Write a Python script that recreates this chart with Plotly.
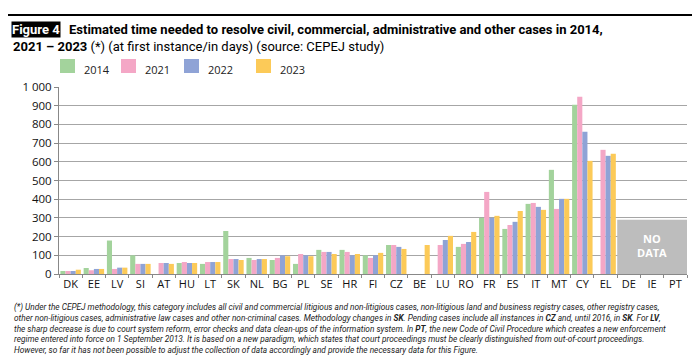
import plotly.graph_objects as go

countries = ["DK","EE","LV","SI","AT","HU","LT","SK","NL","BG","PL","SE","HR","FI","CZ","BE","LU","RO","FR","ES","IT","MT","CY","EL","DE","IE","PT"]
v2014 = [16,32,179,100,None,59,54,230,86,75,54,129,129,100,155,None,None,145,300,241,375,557,905,None,None,None,None]
v2021 = [16,20,27,54,59,64,64,80,75,86,107,118,118,86,155,None,155,161,439,262,380,348,948,664,None,None,None]
v2022 = [16,27,34,54,59,59,64,80,80,100,100,118,100,100,145,None,182,171,300,279,359,402,761,632,None,None,None]
v2023 = [23,27,34,54,54,59,64,75,80,95,95,107,107,113,134,155,204,225,311,337,343,402,605,643,None,None,None]
series_names = ["2014","2021","2022","2023"]
colors = ["#a3d39c","#f4a7c6","#8fa3d6","#fcca58"]
no_data_countries = ["DE","IE","PT"]
no_data_height = 290
y_ticks = [0,100,200,300,400,500,600,700,800,900,1000]
y_ticklabels = ["0","100","200","300","400","500","600","700","800","900","1 000"]

W, H = 700, 359
L, R, T, B = 51, 21, 79, 93
pw = W - L - R
ph = H - T - B

def px_x(px):
    return (px - L) / pw

def px_y(py):
    return (H - B - py) / ph

fig = go.Figure()
for name, vals, c in zip(series_names, [v2014, v2021, v2022, v2023], colors):
    fig.add_trace(go.Bar(x=countries, y=vals, name=name, marker_color=c,
                         marker_line_width=0, showlegend=False))

# no data box
i0 = countries.index(no_data_countries[0])
i1 = countries.index(no_data_countries[-1])
fig.add_shape(type="rect", xref="x", yref="y", x0=i0 - 0.5, x1=i1 + 0.5, y0=0, y1=no_data_height,
              fillcolor="#bdbdbd", line_width=0, layer="above")
fig.add_annotation(x=countries[(i0 + i1) // 2], y=no_data_height * 0.53, xref="x", yref="y",
                   text="<b>NO<br>DATA</b>", showarrow=False,
                   font=dict(family="Open Sans", size=11, color="white"))

# legend manual
leg_x = [52, 113, 176, 248]
for name, c, lx in zip(series_names, colors, leg_x):
    fig.add_shape(type="rect", xref="paper", yref="paper", x0=px_x(lx), x1=px_x(lx + 15),
                  y0=px_y(65), y1=px_y(51), fillcolor=c, line_width=0)
    fig.add_annotation(xref="paper", yref="paper", x=px_x(lx + 22), y=px_y(61), text=name,
                       showarrow=False, xanchor="left", yanchor="middle",
                       font=dict(family="Open Sans", size=11, color="#222"))

# top rule
fig.add_shape(type="line", xref="paper", yref="paper", x0=px_x(0), x1=px_x(690), y0=px_y(7), y1=px_y(7),
              line=dict(color="black", width=2))

# title
tfont = "Roboto, Open Sans"
fig.add_annotation(xref="paper", yref="paper", x=px_x(3), y=px_y(21), text="<b>Figure 4</b>",
                   showarrow=False, xanchor="left", yanchor="middle", bgcolor="black", borderpad=0,
                   font=dict(family=tfont, size=13, color="white"))
fig.add_annotation(xref="paper", yref="paper", x=px_x(59), y=px_y(21),
                   text="<b>Estimated time needed to resolve civil, commercial, administrative and other cases in 2014,</b>",
                   showarrow=False, xanchor="left", yanchor="middle",
                   font=dict(family=tfont, size=13, color="black"))
fig.add_annotation(xref="paper", yref="paper", x=px_x(3), y=px_y(38),
                   text="<b>2021 – 2023</b> (*) (at first instance/in days) (source: CEPEJ study)",
                   showarrow=False, xanchor="left", yanchor="middle",
                   font=dict(family=tfont, size=13, color="black"))

foot = ("(*) Under the CEPEJ methodology, this category includes all civil and commercial litigious and non-litigious cases, non-litigious land and business registry cases, other registry cases,<br>"
        "other non-litigious cases, administrative law cases and other non-criminal cases. Methodology changes in <b>SK</b>. Pending cases include all instances in <b>CZ</b> and, until 2016, in <b>SK</b>. For <b>LV</b>,<br>"
        "the sharp decrease is due to court system reform, error checks and data clean-ups of the information system. In <b>PT</b>, the new Code of Civil Procedure which creates a new enforcement<br>"
        "regime entered into force on 1 September 2013. It is based on a new paradigm, which states that court proceedings must be clearly distinguished from out-of-court proceedings.<br>"
        "However, so far it has not been possible to adjust the collection of data accordingly and provide the necessary data for this Figure.")
fig.add_annotation(xref="paper", yref="paper", x=px_x(4), y=px_y(320), text="<i>" + foot + "</i>",
                   showarrow=False, xanchor="left", yanchor="middle", align="left",
                   font=dict(family=tfont, size=8.3, color="#222"))

fig.update_layout(
    width=W, height=H, margin=dict(l=L, r=R, t=T, b=B),
    paper_bgcolor="white", plot_bgcolor="white",
    barmode="group", bargap=0.12, bargroupgap=0,
    xaxis=dict(type="category", categoryorder="array", categoryarray=countries,
               tickson="boundaries", ticks="outside", ticklen=3, tickcolor="#888",
               showline=True, linecolor="#888", linewidth=1, showgrid=False,
               tickangle=0,
               tickfont=dict(family="Open Sans", size=11, color="#111")),
    yaxis=dict(range=[0, 1000], tickvals=y_ticks, ticktext=y_ticklabels,
               showgrid=True, gridcolor="#a6a6a6", gridwidth=1,
               ticks="outside", ticklen=4, tickcolor="#888",
               showline=True, linecolor="#888", zeroline=False,
               tickfont=dict(family="Open Sans", size=11.5, color="#111")),
    font=dict(family="Open Sans"),
)
fig.write_html("out.html")
